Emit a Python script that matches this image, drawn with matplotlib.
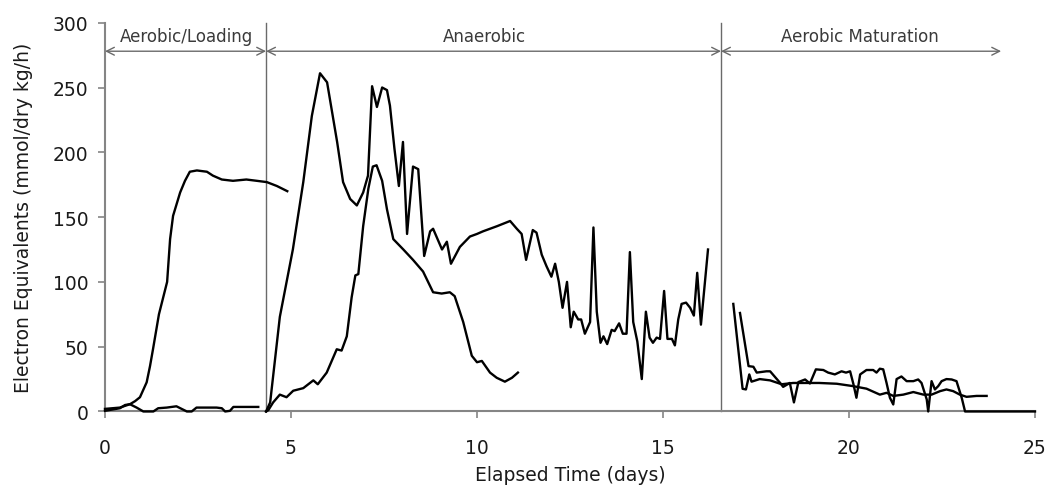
import matplotlib
matplotlib.use("Agg")
import matplotlib.pyplot as plt

plt.rcParams['font.family'] = ['DejaVu Sans']

# ---- data ----
a_x = [0.0, 0.4, 0.54, 0.67, 0.81, 0.94, 1.12, 1.21, 1.29, 1.45, 1.67, 1.75, 1.83, 2.02, 2.15,
       2.28, 2.47, 2.74, 2.9, 3.14, 3.44, 3.8, 4.08, 4.35, 4.62, 4.9]
a_y = [0.5, 2.5, 5, 5.6, 8, 11, 22.5, 35, 48, 75, 100, 133, 151, 169, 178,
       185, 186, 185, 182, 179, 178, 179, 178, 177, 174, 170]

b_x = [0.0, 0.4, 0.67, 0.85, 1.03, 1.3, 1.43, 1.66, 1.92, 2.06, 2.2, 2.33, 2.46, 3.0,
       3.14, 3.23, 3.36, 3.45, 4.12]
b_y = [2, 3, 5.6, 3, 0, 0, 2.5, 3, 4, 2, 0, 0, 3, 3, 2.5, 0, 0.5, 3.5, 3.5]

c_x = [4.33, 4.44, 4.7, 5.05, 5.33, 5.56, 5.78, 5.97, 6.24, 6.4, 6.59, 6.77, 6.94, 7.07,
       7.18, 7.31, 7.45, 7.58, 7.66, 7.78, 7.9, 8.01, 8.12, 8.28, 8.42, 8.58, 8.74, 8.82,
       9.06, 9.19, 9.3, 9.54, 9.81, 10.0, 10.16, 10.54, 10.89, 11.07, 11.2, 11.32, 11.5,
       11.6, 11.74, 11.87, 12.0, 12.1, 12.2, 12.3, 12.42, 12.52, 12.6, 12.72, 12.8, 12.9,
       13.04, 13.13, 13.22, 13.32, 13.4, 13.5, 13.62, 13.7, 13.82, 13.92, 14.02, 14.11,
       14.2, 14.31, 14.43, 14.54, 14.64, 14.73, 14.83, 14.92, 15.03, 15.12, 15.24, 15.32,
       15.41, 15.5, 15.62, 15.73, 15.83, 15.92, 16.02, 16.21]
c_y = [0, 7, 73, 125, 177, 228, 261, 254, 208, 177, 164, 159, 169, 182,
       251, 235, 250, 248, 236, 203, 174, 208, 137, 189, 187, 120, 139, 141,
       125, 131, 114, 127, 135, 137, 139, 143, 147, 141, 137, 117, 140,
       138, 121, 112, 104, 114, 100, 80, 100, 65, 77, 71, 71, 60,
       69, 142, 77, 53, 58, 52, 63, 62, 68, 60, 60, 123,
       69, 54, 25, 77, 57, 53, 57, 56, 93, 56, 56, 51,
       71, 83, 84, 80, 74, 107, 67, 125]

d_x = [4.33, 4.39, 4.52, 4.7, 4.88, 5.06, 5.33, 5.6, 5.72, 5.96, 6.23, 6.36, 6.5, 6.63,
       6.73, 6.81, 6.94, 7.08, 7.2, 7.3, 7.45, 7.58, 7.75, 8.02, 8.28, 8.55, 8.82, 9.05,
       9.27, 9.4, 9.63, 9.86, 10.0, 10.13, 10.35, 10.53, 10.75, 10.94, 11.1]
d_y = [0, 1, 7, 13, 11, 16, 18, 24, 21, 30, 48, 47, 58, 88,
       105, 106, 143, 172, 189, 190, 178, 156, 133, 125, 117, 108, 92, 91,
       92, 89, 69, 43, 38, 39, 30, 26, 23, 26, 30]

e_x = [16.89, 17.14, 17.23, 17.32, 17.38, 17.6, 17.88, 18.19, 18.5, 18.86, 19.2, 19.67,
       20.1, 20.47, 20.83, 21.01, 21.19, 21.46, 21.73, 22.0, 22.22, 22.45, 22.62, 22.8,
       22.98, 23.16, 23.43, 23.7]
e_y = [83, 17.5, 17, 28.6, 23, 25, 24, 21, 22, 22, 22, 21.4,
       19.6, 17.6, 13, 14.4, 12, 13, 15, 13, 13, 15.7, 17, 15.7,
       13, 11.3, 12, 12]

f_x = [17.07, 17.3, 17.43, 17.52, 17.78, 17.88, 18.0, 18.15, 18.23, 18.41, 18.52, 18.64,
       18.82, 18.95, 19.11, 19.31, 19.44, 19.62, 19.8, 19.92, 20.03, 20.12, 20.2, 20.3,
       20.47, 20.65, 20.74, 20.83, 20.92, 21.01, 21.1, 21.19, 21.28, 21.41, 21.55, 21.73,
       21.86, 21.95, 22.09, 22.13, 22.22, 22.31, 22.4, 22.49, 22.62, 22.76, 22.89, 23.03,
       23.12, 25.0]
f_y = [76, 35, 34.5, 30, 31, 31, 27, 22, 19, 22, 7, 22.7,
       24.7, 21.6, 32.5, 32, 30, 28.6, 31, 30, 31, 21, 10.6, 28.6,
       32, 32, 30, 33, 32.5, 22, 10.6, 5.4, 25, 27, 23.4, 23.4,
       24.7, 22, 9.3, 0, 23.4, 17, 19.6, 23.4, 25, 24.7, 23.4, 10.6,
       0, 0]

phase_bounds = [0.0, 4.33, 16.56, 24.09]
phase_labels = ["Aerobic/Loading", "Anaerobic", "Aerobic Maturation"]
phase_label_x = [2.2, 10.2, 20.3]

x_ticks = [0, 5, 10, 15, 20, 25]
y_ticks = [0, 50, 100, 150, 200, 250, 300]

# ---- figure ----
fig = plt.figure(figsize=(10.5, 4.89), dpi=100)
ax = fig.add_axes([0.1, 0.1565, 0.8857, 0.795])

grey = '#858585'
for xs, ys in [(a_x, a_y), (b_x, b_y), (c_x, c_y), (d_x, d_y), (e_x, e_y), (f_x, f_y)]:
    ax.plot(xs, ys, color='black', lw=1.7, clip_on=False, zorder=3,
            solid_joinstyle='round')

# phase separators
for xb in phase_bounds[1:3]:
    ax.plot([xb, xb], [0, 300], color='#6a6a6a', lw=1.0, zorder=2, clip_on=False)

arrow_y = 278
for i in range(3):
    ax.annotate('', xy=(phase_bounds[i + 1], arrow_y), xytext=(phase_bounds[i], arrow_y),
                arrowprops=dict(arrowstyle='<->', color='#6a6a6a', lw=1.0,
                                shrinkA=0, shrinkB=0, mutation_scale=14))
    ax.text(phase_label_x[i], 289.5, phase_labels[i], ha='center', va='center',
            fontsize=12, color='#3a3a3a')

ax.set_xlim(0, 25)
ax.set_ylim(0, 300)
ax.set_xticks(x_ticks)
ax.set_yticks(y_ticks)
ax.tick_params(axis='both', direction='out', length=5, width=1.2, color=grey,
               labelsize=13.5, labelcolor='#1a1a1a')
ax.tick_params(axis='x', pad=14)
ax.tick_params(axis='y', pad=7)

for s in ['top', 'right']:
    ax.spines[s].set_visible(False)
for s in ['left', 'bottom']:
    ax.spines[s].set_color(grey)
    ax.spines[s].set_linewidth(1.5)

ax.set_xlabel('Elapsed Time (days)', fontsize=13.5, color='#1a1a1a', labelpad=6)
ax.set_ylabel('Electron Equivalents (mmol/dry kg/h)', fontsize=13.5, color='#1a1a1a',
              labelpad=14)

fig.savefig('out.png', dpi=100)
